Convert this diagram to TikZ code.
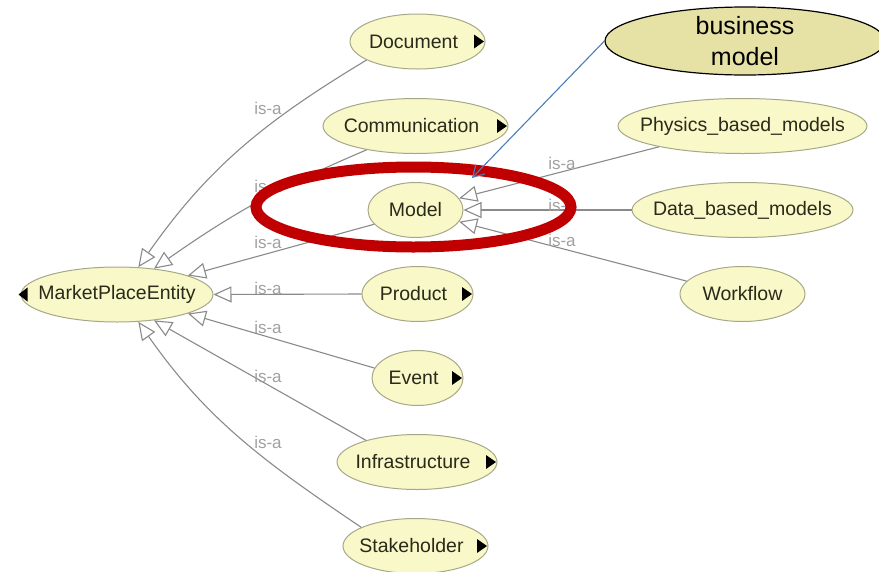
\documentclass[tikz,border=0pt]{standalone}
\usepackage{fontspec}
\setmainfont{Liberation Sans}
\usetikzlibrary{shapes.geometric,arrows.meta}
\definecolor{nodefill}{HTML}{F8F8C8}
\definecolor{nodeborder}{HTML}{A8A888}
\definecolor{nodetext}{HTML}{2A2A1A}
\definecolor{edgegray}{HTML}{8A8A8A}
\definecolor{labelgray}{HTML}{A0A0A0}
\definecolor{bmfill}{HTML}{E6E2A6}
\definecolor{ringred}{HTML}{C00000}
\definecolor{arrowblue}{HTML}{4A7DBA}
\newcommand{\ctxt}[1]{\makebox[0pt]{#1}}
\begin{document}
\begin{tikzpicture}[x=1pt,y=1pt,
  cls/.style={ellipse, draw=nodeborder, fill=nodefill, line width=1pt, inner sep=0pt,
    minimum height=55pt, font=\fontsize{19.5}{22}\selectfont, text=nodetext},
  isa/.style={draw=edgegray, line width=1.1pt,
    -{Triangle[length=18pt, width=16pt, fill=white, line width=1.1pt]}},
  isalabel/.style={font=\fontsize{17}{19}\selectfont, text=labelgray, inner sep=0pt},
  expander/.style={fill=black},
  ring/.style={draw=ringred, line width=11pt},
  note/.style={ellipse, draw=black, fill=bmfill, line width=1.2pt, inner sep=0pt,
    minimum width=280pt, minimum height=68pt,
    font=\fontsize{25}{31}\selectfont, text=black},
  notearrow/.style={draw=arrowblue, line width=1.1pt,
    -{Straight Barb[length=11pt, width=13pt, line width=1.1pt]}}
]
\useasboundingbox (0,0) rectangle (879,-571);

% class nodes
\node[cls, minimum width=192pt] (mpe) at (117,-294.5) {\ctxt{MarketPlaceEntity}};
\node[cls, minimum width=135pt] (doc) at (417.5,-41.5) {\ctxt{Document\hspace{8pt}}};
\node[cls, minimum width=185pt] (com) at (415.5,-126) {\ctxt{Communication\hspace{8pt}}};
\node[cls, minimum width=95pt] (model) at (415.5,-210) {\ctxt{Model}};
\node[cls, minimum width=111pt] (prod) at (417.5,-294) {\ctxt{Product\hspace{8pt}}};
\node[cls, minimum width=91pt] (evt) at (417.5,-378) {\ctxt{Event\hspace{8pt}}};
\node[cls, minimum width=160pt] (inf) at (417,-462) {\ctxt{Infrastructure\hspace{8pt}}};
\node[cls, minimum width=145pt] (stk) at (415.5,-546) {\ctxt{Stakeholder\hspace{8pt}}};
\node[cls, minimum width=249pt] (phys) at (742.5,-126) {\ctxt{Physics\_based\_models}};
\node[cls, minimum width=221pt] (data) at (742.5,-210) {\ctxt{Data\_based\_models}};
\node[cls, minimum width=125pt] (wf) at (742.5,-294) {\ctxt{Workflow}};

% expander triangles
\foreach \n in {doc,com,prod,evt,inf,stk}{
  \fill[expander] (\n.east) ++(-1.5,0) -- ++(-10,7) -- ++(0,-14) -- cycle;
}
\fill[expander] (mpe.west) ++(-2,0) -- ++(9,7) -- ++(0,-14) -- cycle;

% is-a edges to MarketPlaceEntity
\draw[isa] (doc.200) to[out=211,in=55] (mpe.52);
\draw[isa] (com.206) to[out=203,in=35] (mpe.35);
\draw[isa] (model.199) -- (mpe.15);
\draw[isa] (prod.west) -- (mpe.east);
\draw[isa] (evt.167) -- (mpe.-15);
\draw[isa] (inf.157) -- (mpe.-35);
\draw[isa] (stk.161) to[out=146,in=305] (mpe.-52);

% is-a edges to Model
\draw[isa] (phys.194) -- (model.15);
\draw[isa] (data.west) -- (model.east);
\draw[isa] (wf.167) -- (model.-15);

% labels
\node[isalabel] (l1) at (268,-108) {is-a};
\node[isalabel] (l2) at (268,-186) {is-a};
\node[isalabel] (l3) at (268,-242) {is-a};
\node[isalabel] (l4) at (268,-288) {is-a};
\node[isalabel] (l5) at (268,-327) {is-a};
\node[isalabel] (l6) at (268,-376) {is-a};
\node[isalabel] (l7) at (268,-442) {is-a};
\node[isalabel] (l8) at (562,-163) {is-a};
\node[isalabel] (l9) at (562,-205) {is-a};
\node[isalabel] (l10) at (562,-240) {is-a};

% highlight ring
\draw[ring] (413.5,-207) ellipse [x radius=157.5pt, y radius=40pt];

% annotation
\node[note] (bm) at (745,-41) {\raisebox{-9.5pt}[0pt][0pt]{\makebox[0pt]{\begin{tabular}{@{}c@{}}business\\model\end{tabular}}}};
\coordinate (bmtip) at (472,-178);
\draw[notearrow] (bm.west) -- (bmtip);
\end{tikzpicture}
\end{document}
